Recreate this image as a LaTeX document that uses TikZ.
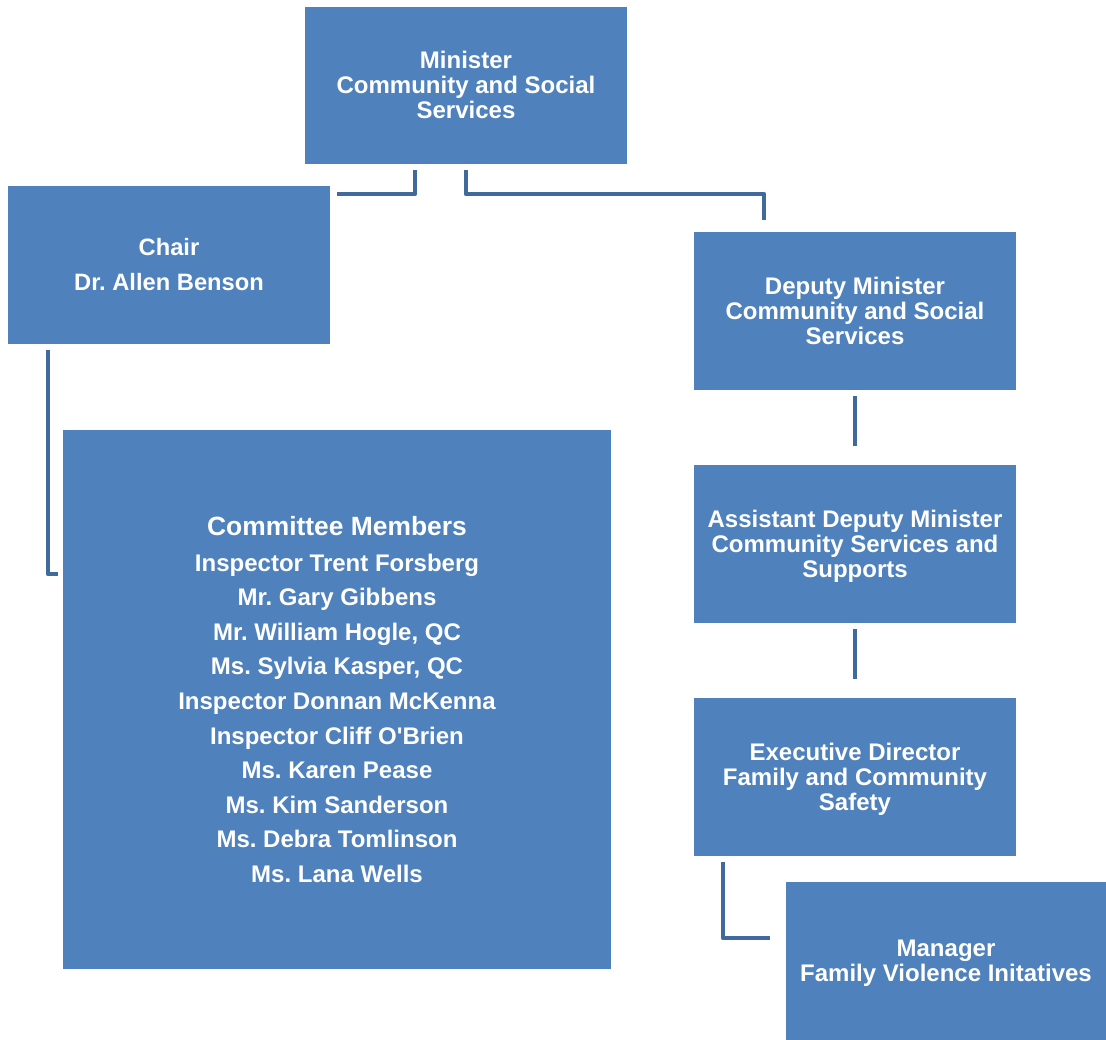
\documentclass[tikz,border=0pt]{standalone}
\usepackage{fontspec}
\setmainfont{Liberation Sans}
\definecolor{boxblue}{HTML}{4F81BD}
\definecolor{lineblue}{HTML}{40699C}
\begin{document}
\frenchspacing
\begin{tikzpicture}[x=1pt,y=-1pt,
  orgbox/.style={fill=boxblue, draw=none, text=white, align=center, inner sep=0pt,
    font=\fontsize{24}{25}\selectfont\bfseries},
  conn/.style={draw=lineblue, line width=4.5pt, line cap=butt, line join=round}]
\useasboundingbox (0,0) rectangle (1106,1040);
% boxes
\fill[boxblue] (305,7) rectangle (627,164);
\node[orgbox, fill=none] (min) at (466,84.5) {Minister\\Community and Social\\Services};
\node[orgbox, minimum width=322pt, minimum height=158pt, font=\fontsize{23.7}{35}\selectfont\bfseries] (chair) at (169,265) {Chair\\Dr. Allen Benson};
\node[orgbox, minimum width=322pt, minimum height=158pt] (dep) at (855,311) {Deputy Minister\\Community and Social\\Services};
\fill[boxblue] (694,465) rectangle (1016,623);
\node[orgbox, fill=none] (adm) at (855,546) {Assistant Deputy Minister\\Community Services and\\Supports};
\fill[boxblue] (694,698) rectangle (1016,856);
\node[orgbox, fill=none] (ed) at (855,779) {Executive Director\\Family and Community\\Safety};
\fill[boxblue] (786,882) rectangle (1106,1040);
\node[orgbox, fill=none] (mgr) at (946,963) {Manager\\Family Violence Initatives};
\node[orgbox, minimum width=548pt, minimum height=539pt, font=\fontsize{24}{34.6}\selectfont\bfseries] (com) at (337,699.5)
  {{\fontsize{26.4}{36}\selectfont Committee Members}\\[1pt]
   Inspector Trent Forsberg\\Mr. Gary Gibbens\\Mr. William Hogle, QC\\Ms. Sylvia Kasper, QC\\Inspector Donnan McKenna\\Inspector Cliff O\textquotesingle Brien\\Ms. Karen Pease\\Ms. Kim Sanderson\\Ms. Debra Tomlinson\\Ms. Lana Wells};
% connectors
\coordinate (a1) at (415,170); \coordinate (a2) at (337,194);
\draw[conn] (a1) |- (a2);
\coordinate (b1) at (466,170); \coordinate (b2) at (764,194); \coordinate (b3) at (764,220);
\draw[conn] (b1) |- (b2) -- (b3);
\coordinate (c1) at (48,350); \coordinate (c2) at (58,574);
\draw[conn] (c1) |- (c2);
\coordinate (d1) at (855,396); \coordinate (d2) at (855,446);
\draw[conn] (d1) -- (d2);
\coordinate (e1) at (855,629); \coordinate (e2) at (855,679);
\draw[conn] (e1) -- (e2);
\coordinate (f1) at (723,862); \coordinate (f2) at (770,938);
\draw[conn] (f1) |- (f2);
\end{tikzpicture}
\end{document}
